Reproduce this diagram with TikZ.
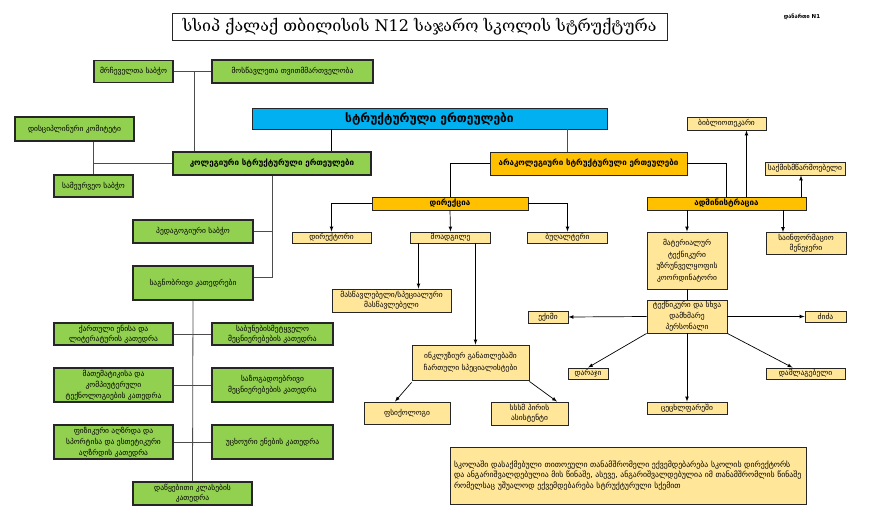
\documentclass[tikz,border=0pt]{standalone}
\usepackage{fontspec}
\setmainfont{DejaVu Sans}
\newfontfamily\titlefont{DejaVu Serif}
\usetikzlibrary{calc}
\definecolor{grn}{HTML}{92D050}
\definecolor{org}{HTML}{FFC000}
\definecolor{lorg}{HTML}{FFE699}
\definecolor{sky}{HTML}{00B0F0}
\begin{document}
\begin{tikzpicture}[x=1pt,y=-1pt,
    >=latex,
    sz/.style n args={2}{minimum width=#1pt, minimum height=#2pt},
    box/.style={draw=black!85, line width=0.9pt, inner sep=1pt, align=center,
      font=\fontsize{7.5}{11}\selectfont},
    gbox/.style={box, fill=grn, line width=1.1pt},
    obox/.style={box, fill=org, font=\bfseries\fontsize{8}{9}\selectfont},
    lbox/.style={box, fill=lorg},
    link/.style={draw=black!70, line width=0.8pt},
    edge/.style={->, line width=0.7pt}]

  \useasboundingbox (0,0) rectangle (884,520);

  \node[box, line width=1pt, sz={495}{27}, font=\titlefont\fontsize{16}{18}\selectfont]
    (title) at (419.5,26.5) {სსიპ ქალაქ თბილისის N12 საჯარო სკოლის სტრუქტურა};
  \node[font=\bfseries\fontsize{5.5}{7}\selectfont] (annex) at (802,17) {დანართი N1};

  % collegial part
  \node[gbox, sz={79}{22}] (council) at (133.5,71.5) {მრჩეველთა საბჭო};
  \node[gbox, sz={161}{23}] (selfgov) at (292.5,71.5) {მოსწავლეთა თვითმმართველობა};
  \node[gbox, sz={119}{24}] (discip) at (74.5,129) {დისციპლინური კომიტეტი};
  \node[gbox, sz={79}{22}] (board) at (93.5,186) {სამეურვეო საბჭო};
  \node[box, fill=sky, sz={355}{21}, font=\bfseries\fontsize{12}{13}\selectfont]
    (units) at (429.5,118.5) {სტრუქტურული ერთეულები};
  \node[gbox, sz={198}{23}, font=\bfseries\fontsize{8}{10}\selectfont]
    (coll) at (272,163.5) {კოლეგიური სტრუქტურული ერთეულები};
  \node[gbox, sz={120}{23}] (pedag) at (193,231.5) {პედაგოგიური საბჭო};
  \node[gbox, sz={120}{34}] (depts) at (193,283) {საგნობრივი კათედრები};
  \node[gbox, sz={119}{22}] (geo) at (113.5,334) {ქართული ენისა და\\[-1pt]ლიტერატურის კათედრა};
  \node[gbox, sz={121}{22}] (nat) at (272.5,334) {საბუნებისმეტყველო\\[-1pt]მეცნიერებების კათედრა};
  \node[gbox, sz={119}{34}] (math) at (113.5,385) {მათემატიკისა და\\კომპიუტერული\\ტექნოლოგიების კათედრა};
  \node[gbox, sz={121}{34}] (soc) at (272.5,385) {საზოგადოებრივი\\მეცნიერებების კათედრა};
  \node[gbox, sz={119}{34}] (sport) at (113.5,442) {ფიზიკური აღზრდა და\\სპორტისა და ესთეტიკური\\აღზრდის კათედრა};
  \node[gbox, sz={121}{34}] (lang) at (272.5,442) {უცხოური ენების კათედრა};
  \node[gbox, sz={119}{23}] (prim) at (192.5,493.5) {დაწყებითი კლასების\\[-1pt]კათედრა};

  % non-collegial part
  \node[obox, sz={197}{23}] (noncoll) at (588.5,163.5) {არაკოლეგიური სტრუქტურული ერთეულები};
  \node[obox, sz={156}{13}] (direct) at (450,203.5) {დირექცია};
  \node[obox, sz={159}{13}] (admin) at (726.5,203.5) {ადმინისტრაცია};
  \node[lbox, sz={79}{13}] (libr) at (726.5,123.5) {ბიბლიოთეკარი};
  \node[lbox, sz={80}{13}] (clerk) at (805,168.5) {საქმისმწარმოებელი};
  \node[lbox, sz={79}{11}] (dir) at (331.5,237.5) {დირექტორი};
  \node[lbox, sz={80}{11}] (deputy) at (450.5,237.5) {მოადგილე};
  \node[lbox, sz={80}{11}] (acct) at (567.5,237.5) {ბუღალტერი};
  \node[lbox, sz={119}{23}] (teach) at (391.5,300.5) {მასწავლებელი/სპეციალური\\[-1pt]მასწავლებელი};
  \node[lbox, sz={117}{35}] (incl) at (470.5,362.5) {ინკლუზიურ განათლებაში\\[1pt]ჩართული სპეციალისტები};
  \node[lbox, sz={86}{22}] (psych) at (407,413) {ფსიქოლოგი};
  \node[lbox, sz={77}{23}] (assist) at (529.5,413.5) {სსსმ პირის\\[-1pt]ასისტენტი};
  \node[lbox, sz={80}{57}] (mater) at (687,260.5) {მატერიალურ\\[0.5pt]ტექნიკური\\[0.5pt]უზრუნველყოფის\\[0.5pt]კოორდინატორი};
  \node[lbox, sz={80}{22}] (info) at (806,243.5) {საინფორმაციო\\[-1pt]მენეჯერი};
  \node[lbox, sz={80}{33}] (staff) at (687,316.5) {ტექნიკური და სხვა\\დამხმარე\\პერსონალი};
  \node[lbox, sz={40}{12}] (doctor) at (548,317) {ექიმი};
  \node[lbox, sz={41}{11}] (nanny) at (825.5,316.5) {ძიძა};
  \node[lbox, sz={40}{11}] (guard) at (588,373.5) {დარაჯი};
  \node[lbox, sz={80}{12}] (stoker) at (687,408) {ცეცხლფარეში};
  \node[lbox, sz={79}{11}] (clean) at (805.5,373.5) {დამლაგებელი};

  \node[lbox, sz={356}{57}, text width=348pt, align=left, font=\fontsize{7.8}{10.5}\selectfont]
    (note) at (628,475.5) {სკოლაში დასაქმებული თითოეული თანამშრომელი ექვემდებარება სკოლის დირექტორს\\
    და ანგარიშვალდებულია მის წინაშე, ასევე, ანგარიშვალდებულია იმ თანამშრომლის წინაშე\\
    რომელსაც უშუალოდ ექვემდებარება სტრუქტურული სქემით};

  % junctions
  \coordinate (j1) at ($(council.east)!0.56!(selfgov.west)$);
  \coordinate (j2) at (331,129);
  \coordinate (j3) at (567,129);
  \coordinate (j4) at ([xshift=20pt]admin.north);
  \coordinate (j5) at ([xshift=-4pt]clerk.south);
  \coordinate (j6) at (783,210);
  \coordinate (j7) at ([xshift=-32pt]deputy.south);
  \coordinate (j8) at ([xshift=25pt]deputy.south);

  \draw[link] (council) -- (selfgov);
  \draw[link] (j1) -- (j1 |- coll.north);
  \draw[link] (board.north) -- (board.north |- discip.south);
  \draw[link] (board.north |- coll.west) -- (coll.west);
  \draw[link, black] (j2) -- (j2 |- coll.north);
  \draw[link] (coll.south) |- ([yshift=6pt]depts.east);
  \draw[link] (pedag.east) -- (pedag.east -| coll.south);
  \draw[link] (depts.south) -- (prim.north);
  \draw[link] (geo) -- (nat);
  \draw[link] (math) -- (soc);
  \draw[link] (sport) -- (lang);

  \draw[link] (j3) -- (j3 |- noncoll.north);
  \draw[link, black] (noncoll.west) -| (direct.north);
  \draw[link, black] (noncoll.east) -| (admin.north);
  \draw[edge] (direct.west) -| (dir.north);
  \draw[edge] (direct.south) -- (deputy.north);
  \draw[edge] (direct.east) -| (acct.north);
  \draw[edge] (j4) -- (j4 |- libr.south);
  \draw[edge] (j5 |- admin.north) -- (j5);
  \draw[edge] (admin.south -| mater.north) -- (mater.north);
  \draw[edge] (j6) -- (j6 |- info.north);
  \draw[edge] (j7) -- (j7 |- teach.north);
  \draw[edge] (j8) -- (j8 |- incl.north);
  \draw[edge] ([yshift=-2pt]incl.south west) -- ([xshift=-12pt]psych.north);
  \draw[edge] ([yshift=-1pt]incl.south east) -- ([xshift=27.5pt]assist.north);
  \draw[link, black] (mater.south) -- (staff.north);
  \draw[edge] (staff.east) -- (nanny.west);
  \draw[edge] (staff.west) -- (doctor.east);
  \draw[edge] (staff.south west) -- (guard.north);
  \draw[edge] (staff.south) -- (stoker.north);
  \draw[edge] (staff.south east) -- ([xshift=-13pt]clean.north);
\end{tikzpicture}
\end{document}
